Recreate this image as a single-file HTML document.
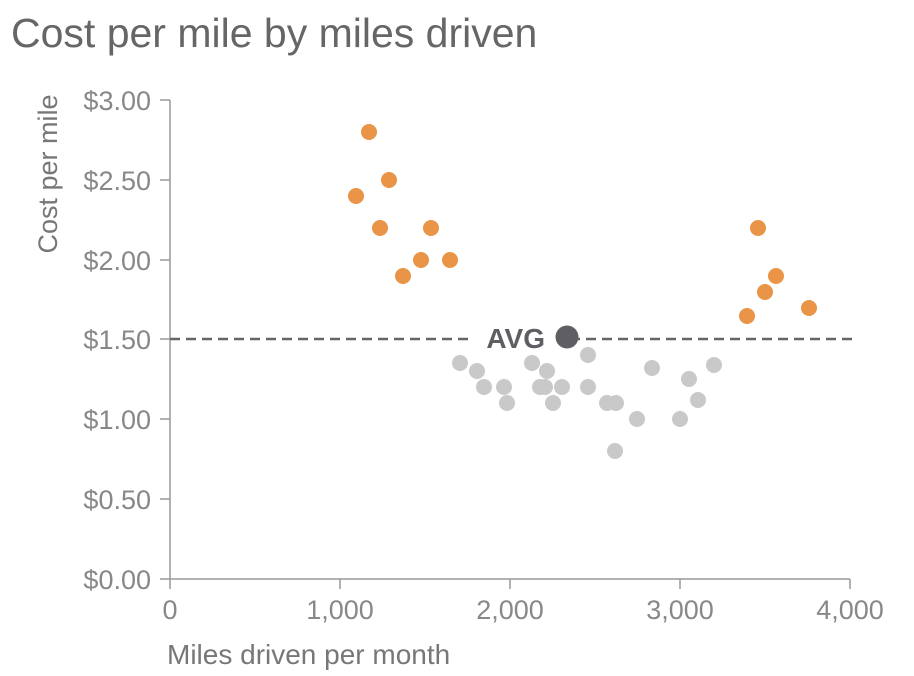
<!DOCTYPE html>
<html><head><meta charset="utf-8"><style>
html,body{margin:0;padding:0;background:#fff;}
svg{display:block;font-family:"Liberation Sans",sans-serif;}
</style></head><body>
<svg width="914" height="676" viewBox="0 0 914 676" xmlns="http://www.w3.org/2000/svg">
<text x="11" y="47" font-size="41" fill="#666">Cost per mile by miles driven</text>
<text transform="translate(57,174) rotate(-90)" text-anchor="middle" font-size="27" fill="#777">Cost per mile</text>
<text x="167" y="664" font-size="28" fill="#777">Miles driven per month</text>
<g stroke="#999" stroke-width="1.5">
<line x1="170" y1="100" x2="170" y2="579"/>
<line x1="170" y1="579" x2="850" y2="579"/>
<line x1="160" y1="100" x2="170" y2="100"/>
<line x1="160" y1="180" x2="170" y2="180"/>
<line x1="160" y1="260" x2="170" y2="260"/>
<line x1="160" y1="339" x2="170" y2="339"/>
<line x1="160" y1="419" x2="170" y2="419"/>
<line x1="160" y1="499" x2="170" y2="499"/>
<line x1="160" y1="579" x2="170" y2="579"/>
<line x1="170" y1="579" x2="170" y2="589"/>
<line x1="340" y1="579" x2="340" y2="589"/>
<line x1="510" y1="579" x2="510" y2="589"/>
<line x1="680" y1="579" x2="680" y2="589"/>
<line x1="850" y1="579" x2="850" y2="589"/>
</g>
<g font-size="27" fill="#888" text-anchor="end">
<text x="151" y="110">$3.00</text>
<text x="151" y="190">$2.50</text>
<text x="151" y="270">$2.00</text>
<text x="151" y="349">$1.50</text>
<text x="151" y="429">$1.00</text>
<text x="151" y="509">$0.50</text>
<text x="151" y="589">$0.00</text>
</g>
<g font-size="27" fill="#888" text-anchor="middle">
<text x="170" y="619">0</text>
<text x="340" y="619">1,000</text>
<text x="510" y="619">2,000</text>
<text x="680" y="619">3,000</text>
<text x="850" y="619">4,000</text>
</g>
<line x1="170" y1="339" x2="856" y2="339" stroke="#666" stroke-width="2.5" stroke-dasharray="10,6"/>
<rect x="472" y="322" width="84" height="32" fill="#fff"/>
<g fill="#c9c9c9">
<circle cx="460" cy="363" r="8"/><circle cx="477" cy="371" r="8"/><circle cx="484" cy="387" r="8"/>
<circle cx="504" cy="387" r="8"/><circle cx="507" cy="403" r="8"/><circle cx="532" cy="363" r="8"/>
<circle cx="540" cy="387" r="8"/><circle cx="547" cy="371" r="8"/><circle cx="545" cy="387" r="8"/>
<circle cx="553" cy="403" r="8"/><circle cx="562" cy="387" r="8"/><circle cx="588" cy="355" r="8"/>
<circle cx="588" cy="387" r="8"/><circle cx="607" cy="403" r="8"/><circle cx="616" cy="403" r="8"/>
<circle cx="615" cy="451" r="8"/><circle cx="637" cy="419" r="8"/><circle cx="652" cy="368" r="8"/>
<circle cx="680" cy="419" r="8"/><circle cx="689" cy="379" r="8"/><circle cx="698" cy="400" r="8"/>
<circle cx="714" cy="365" r="8"/>
</g>
<g fill="#ea9447">
<circle cx="356" cy="196" r="8"/><circle cx="369" cy="132" r="8"/><circle cx="389" cy="180" r="8"/>
<circle cx="380" cy="228" r="8"/><circle cx="403" cy="276" r="8"/><circle cx="421" cy="260" r="8"/>
<circle cx="431" cy="228" r="8"/><circle cx="450" cy="260" r="8"/><circle cx="758" cy="228" r="8"/>
<circle cx="776" cy="276" r="8"/><circle cx="765" cy="292" r="8"/><circle cx="747" cy="316" r="8"/>
<circle cx="809" cy="308" r="8"/>
</g>
<circle cx="567" cy="337" r="11.5" fill="#5f5f63"/>
<text x="545" y="348" font-size="28" font-weight="bold" fill="#5f5f63" text-anchor="end">AVG</text>
</svg>
</body></html>
